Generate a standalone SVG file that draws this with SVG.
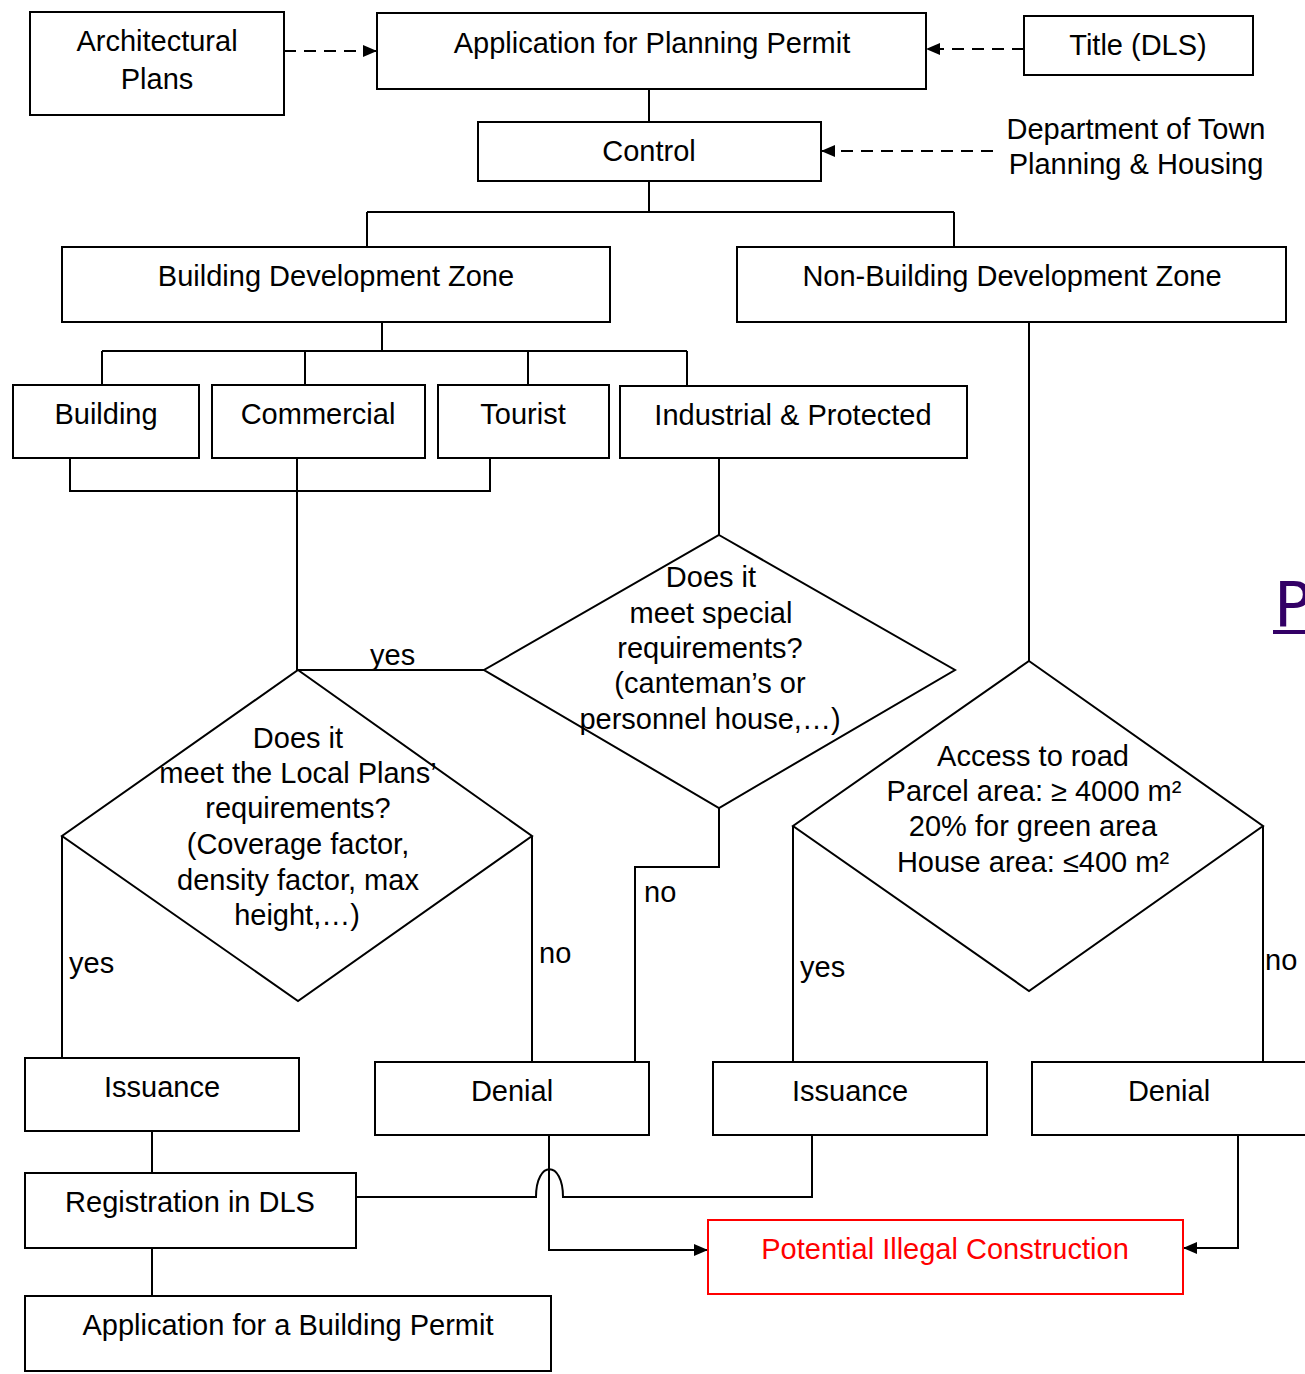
<svg xmlns="http://www.w3.org/2000/svg" width="1305" height="1374" viewBox="0 0 1305 1374">
<defs>
<marker id="arr" viewBox="0 0 14 12" refX="14" refY="6" markerWidth="14" markerHeight="12" markerUnits="userSpaceOnUse" orient="auto">
<path d="M0,0 L14,6 L0,12 Z" fill="#000"/>
</marker>
</defs>
<style>
.b{fill:#fff;stroke:#000;stroke-width:2}
.r{fill:#fff;stroke:#f00;stroke-width:2}
.t{font-family:"Liberation Sans",Arial,sans-serif;font-size:29px;fill:#000;text-anchor:middle}
.l{font-family:"Liberation Sans",Arial,sans-serif;font-size:29px;fill:#000}
.c{fill:none;stroke:#000;stroke-width:2}
.d{fill:none;stroke:#000;stroke-width:2;stroke-dasharray:12 8}
</style>
<rect width="1305" height="1374" fill="#fff"/>
<g id="connectors">
<path class="d" d="M284,51 H377" marker-end="url(#arr)"/>
<path class="d" d="M1024,49 H926" marker-end="url(#arr)"/>
<path class="d" d="M993,151 H821" marker-end="url(#arr)"/>
<path class="c" d="M649,89 V122"/>
<path class="c" d="M649,181 V212 M367,212 H954 M367,212 V247 M954,212 V247"/>
<path class="c" d="M382,322 V351 M102,351 H687 M102,351 V385 M305,351 V385 M528,351 V385 M687,351 V386"/>
<path class="c" d="M70,455 V491 H490 V458"/>
<path class="c" d="M297,458 V670"/>
<path class="c" d="M719,458 V535"/>
<path class="c" d="M484,670 H298"/>
<path class="c" d="M62,836 V1058"/>
<path class="c" d="M532,836 V1062"/>
<path class="c" d="M719,808 V867 H635 V1062"/>
<path class="c" d="M1029,322 V661"/>
<path class="c" d="M793,826 V1062"/>
<path class="c" d="M1263,826 V1062"/>
<path class="c" d="M152,1131 V1173"/>
<path class="c" d="M152,1248 V1296"/>
<path class="c" d="M356,1197 H536 C536,1160 563,1160 563,1197 H812 V1135"/>
<path class="c" d="M549,1135 V1250 H708" marker-end="url(#arr)"/>
<path class="c" d="M1238,1135 V1248 H1183" marker-end="url(#arr)"/>
<text class="l" x="370" y="665">yes</text>
<text class="l" x="69" y="973">yes</text>
<text class="l" x="539" y="963">no</text>
<text class="l" x="644" y="902">no</text>
<text class="l" x="800" y="977">yes</text>
<text class="l" x="1265" y="970">no</text>
</g>
<g id="arch"><rect class="b" x="30" y="12" width="254" height="103"/><text class="t" x="157" y="51">Architectural</text><text class="t" x="157" y="89">Plans</text></g>
<g id="app"><rect class="b" x="377" y="13" width="549" height="76"/><text class="t" x="652" y="53">Application for Planning Permit</text></g>
<g id="title"><rect class="b" x="1024" y="16" width="229" height="59"/><text class="t" x="1138" y="55">Title (DLS)</text></g>
<g id="control"><rect class="b" x="478" y="122" width="343" height="59"/><text class="t" x="649" y="161">Control</text></g>
<g id="dept"><text class="t" x="1136" y="139">Department of Town</text><text class="t" x="1136" y="174">Planning &amp; Housing</text></g>
<g id="bdz"><rect class="b" x="62" y="247" width="548" height="75"/><text class="t" x="336" y="286">Building Development Zone</text></g>
<g id="nbdz"><rect class="b" x="737" y="247" width="549" height="75"/><text class="t" x="1012" y="286">Non-Building Development Zone</text></g>
<g id="building"><rect class="b" x="13" y="385" width="186" height="73"/><text class="t" x="106" y="424">Building</text></g>
<g id="commercial"><rect class="b" x="212" y="385" width="213" height="73"/><text class="t" x="318" y="424">Commercial</text></g>
<g id="tourist"><rect class="b" x="438" y="385" width="171" height="73"/><text class="t" x="523" y="424">Tourist</text></g>
<g id="industrial"><rect class="b" x="620" y="386" width="347" height="72"/><text class="t" x="793" y="425">Industrial &amp; Protected</text></g>
<g id="special"><polygon class="b" points="719,535 955,670 719,808 484,670"/>
<text class="t" x="711" y="587">Does it</text><text class="t" x="711" y="623">meet special</text><text class="t" x="710" y="658">requirements?</text><text class="t" x="710" y="693">(canteman’s or</text><text class="t" x="710" y="729">personnel house,…)</text></g>
<g id="local"><polygon class="b" points="298,670 532,836 298,1001 62,836"/>
<text class="t" x="298" y="748">Does it</text><text class="t" x="298" y="783">meet the Local Plans’</text><text class="t" x="298" y="818">requirements?</text><text class="t" x="298" y="854">(Coverage factor,</text><text class="t" x="298" y="890">density factor, max</text><text class="t" x="297" y="925">height,…)</text></g>
<g id="access"><polygon class="b" points="1029,661 1263,826 1029,991 793,826"/>
<text class="t" x="1033" y="766">Access to road</text><text class="t" x="1034" y="801">Parcel area: ≥ 4000 m²</text><text class="t" x="1033" y="836">20% for green area</text><text class="t" x="1033" y="872">House area: ≤400 m²</text></g>
<g id="issuance1"><rect class="b" x="25" y="1058" width="274" height="73"/><text class="t" x="162" y="1097">Issuance</text></g>
<g id="denial1"><rect class="b" x="375" y="1062" width="274" height="73"/><text class="t" x="512" y="1101">Denial</text></g>
<g id="issuance2"><rect class="b" x="713" y="1062" width="274" height="73"/><text class="t" x="850" y="1101">Issuance</text></g>
<g id="denial2"><rect class="b" x="1032" y="1062" width="290" height="73"/><text class="t" x="1169" y="1101">Denial</text></g>
<g id="registration"><rect class="b" x="25" y="1173" width="331" height="75"/><text class="t" x="190" y="1212">Registration in DLS</text></g>
<g id="buildingpermit"><rect class="b" x="25" y="1296" width="526" height="75"/><text class="t" x="288" y="1335">Application for a Building Permit</text></g>
<g id="illegal"><rect class="r" x="708" y="1220" width="475" height="74"/><text class="t" x="945" y="1259" style="fill:#f00">Potential Illegal Construction</text></g>
<g id="p"><text x="1274" y="626" style="font-family:'DejaVu Sans',sans-serif;font-size:62px;fill:#330066">P</text><rect x="1273" y="630" width="40" height="4" fill="#330066"/></g>
</svg>
